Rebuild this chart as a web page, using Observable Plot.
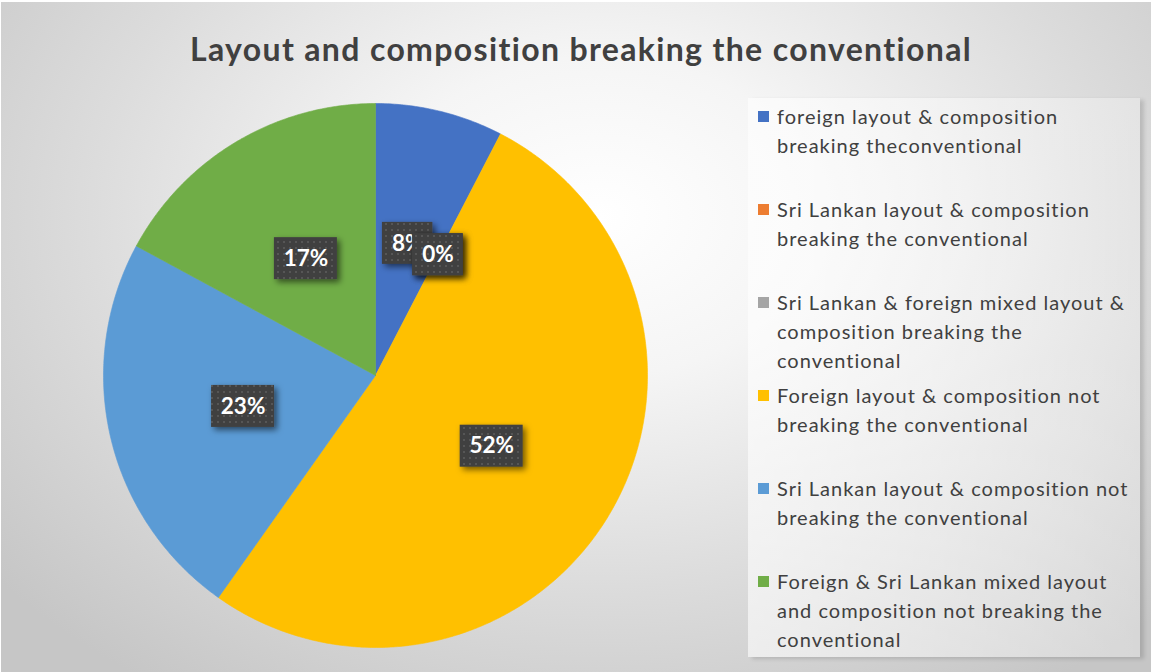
<!DOCTYPE html>
<html><head><meta charset="utf-8">
<script src="https://cdn.jsdelivr.net/npm/d3@7"></script>
<script src="https://cdn.jsdelivr.net/npm/@observablehq/plot@0.6"></script>
<style>
html,body{margin:0;padding:0;background:#fff;width:1151px;height:672px;overflow:hidden;}
#frame{position:absolute;left:1px;top:2px;width:1150px;height:670px;
  background:radial-gradient(ellipse 68% 85% at 52% 32%, #ffffff 0%, #f5f5f5 28%, #dcdcdc 65%, #c6c6c6 100%);
  overflow:hidden;font-family:Lato, "Open Sans", sans-serif;font-variant-ligatures:none;}
#title{position:absolute;left:0;top:28px;width:1160px;text-align:center;font-weight:bold;font-size:32px;line-height:38px;letter-spacing:1.35px;color:#404040;}
#chart{position:absolute;left:94px;top:93px;}
#legend{position:absolute;left:747px;top:96px;width:392px;height:559px;
  background:linear-gradient(90deg, rgba(255,255,255,0.6), rgba(255,255,255,0.3));
  box-shadow:4px 2px 4px rgba(0,0,0,0.14);}
.item{position:absolute;left:0;height:93px;width:392px;}
.sw{position:absolute;left:10px;top:13px;width:11px;height:11px;}
.lt{position:absolute;left:29px;top:4px;width:360px;font-size:20px;line-height:29px;letter-spacing:1px;color:#404040;}
</style></head>
<body>
<div id="frame">
  <div id="title"></div>
  <div id="chart"></div>
  <div id="legend"></div>
</div>
<script>
const chartTitle = "Layout and composition breaking the conventional";
const categories = [
  "foreign layout & composition breaking theconventional",
  "Sri Lankan layout & composition breaking the conventional",
  "Sri Lankan & foreign mixed layout & composition breaking the conventional",
  "Foreign layout & composition not breaking the conventional",
  "Sri Lankan layout & composition not breaking the conventional",
  "Foreign & Sri Lankan mixed layout and composition not breaking the conventional"
];
const shares = [7.6, 0, 0, 52.2, 23.1, 17.1];
const labels = ["8%", "0%", "0%", "52%", "23%", "17%"];
const colors = ["#4472C4", "#ED7D31", "#A5A5A5", "#FFC000", "#5B9BD5", "#70AD47"];

// geometry settings
const R_PX = 272, PAD = 8, SIZE = 2 * R_PX + 2 * PAD;
const LABEL_RADIUS = 0.5;

document.getElementById("title").textContent = chartTitle;

const arcs = d3.pie().sort(null).value(d => d)(shares);
const slices = categories.map((c, i) => {
  const a0 = arcs[i].startAngle, a1 = arcs[i].endAngle, am = (a0 + a1) / 2;
  return {key: c, value: shares[i], label: labels[i], a0, a1,
          cx: LABEL_RADIUS * Math.sin(am), cy: LABEL_RADIUS * Math.cos(am)};
});

const pts = [];
for (const s of slices) {
  if (s.a1 - s.a0 <= 0) continue;
  pts.push({key: s.key, x: 0, y: 0});
  const n = Math.max(2, Math.ceil((s.a1 - s.a0) / (Math.PI / 360)));
  for (let k = 0; k <= n; k++) {
    const a = s.a0 + (s.a1 - s.a0) * k / n;
    pts.push({key: s.key, x: Math.sin(a), y: Math.cos(a)});
  }
  pts.push({key: s.key, x: 0, y: 0});
}

// label box size in px -> data units
const boxHalfW = d => ((d.label.length - 1) * 12.5 + 38) / 2 / R_PX;
const boxHalfH = 21 / R_PX;

const plot = Plot.plot({
  width: SIZE, height: SIZE, margin: PAD,
  x: {domain: [-1, 1], axis: null},
  y: {domain: [-1, 1], axis: null},
  color: {domain: categories, range: colors},
  style: {background: "transparent", overflow: "visible"},
  marks: [
    Plot.line(pts, {x: "x", y: "y", z: "key", fill: "key", stroke: "key", strokeWidth: 0.6}),
    ...slices.flatMap(s => [
      Plot.rect([s], {
        x1: d => d.cx - boxHalfW(d), x2: d => d.cx + boxHalfW(d),
        y1: d => d.cy - boxHalfH, y2: d => d.cy + boxHalfH,
        fill: "url(#lblDots)"
      }),
      Plot.text([s], {x: "cx", y: "cy", text: "label", fill: "white",
        fontSize: 22.5, fontWeight: "bold", fontFamily: "Lato, sans-serif"})
    ])
  ]
});

const sel = d3.select(plot);
const defs = sel.insert("defs", ":first-child");
const pat = defs.append("pattern").attr("id", "lblDots").attr("patternUnits", "userSpaceOnUse")
  .attr("width", 6).attr("height", 6);
pat.append("rect").attr("width", 6).attr("height", 6).attr("fill", "#404040");
pat.append("rect").attr("x", 2).attr("y", 2).attr("width", 2).attr("height", 2).attr("fill", "#575757");
const flt = defs.append("filter").attr("id", "lblShadow").attr("x", "-30%").attr("y", "-30%")
  .attr("width", "170%").attr("height", "170%");
flt.append("feDropShadow").attr("dx", 3).attr("dy", 3).attr("stdDeviation", 3)
  .attr("flood-color", "#000").attr("flood-opacity", 0.55);
sel.selectAll('g[aria-label="rect"]').attr("filter", "url(#lblShadow)");

document.getElementById("chart").appendChild(plot);

// legend
const legend = d3.select("#legend");
categories.forEach((c, i) => {
  const it = legend.append("div").attr("class", "item").style("top", (i * 93) + "px");
  it.append("div").attr("class", "sw").style("background", colors[i]);
  it.append("div").attr("class", "lt").text(c);
});
</script>
</body></html>
